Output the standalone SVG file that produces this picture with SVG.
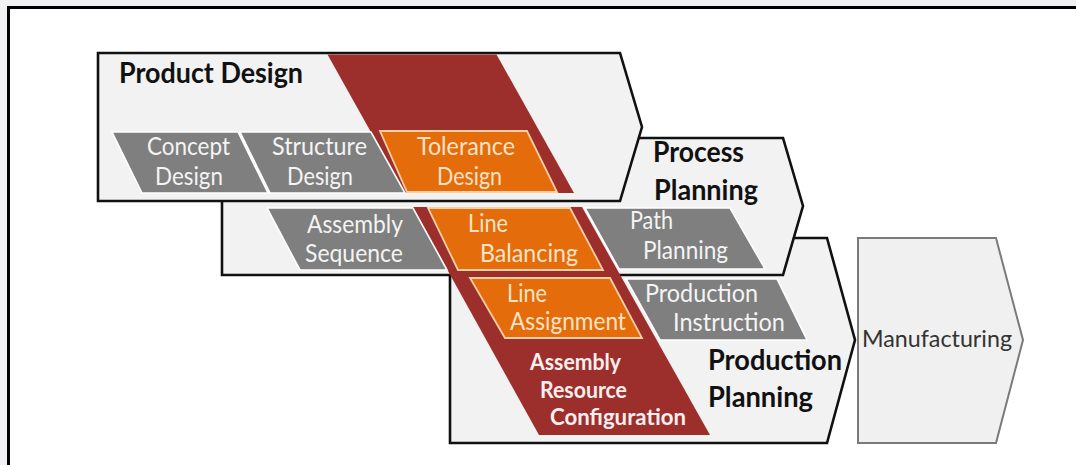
<svg xmlns="http://www.w3.org/2000/svg" width="1076" height="465" viewBox="0 0 1076 465">
  <style>
    .box { fill: #f2f2f2; stroke: #111; stroke-width: 2.6; stroke-linejoin: miter; }
    .mfg { fill: #f0f0f0; stroke: #7a7a7a; stroke-width: 2; }
    .band { fill: #9c2e2b; }
    .grey { fill: #7f7f7f; stroke: #ffffff; stroke-width: 1.6; }
    .orange { fill: #e46c0a; stroke: #f9cfa6; stroke-width: 1.8; }
    .lbl { font-family: Lato, "Open Sans", sans-serif; font-size: 25px; fill: #f4f4f4; }
    .lbl-o { font-family: Lato, "Open Sans", sans-serif; font-size: 25px; fill: #fde3c8; }
    .lbl-r { font-family: Lato, "Open Sans", sans-serif; font-size: 22.5px; font-weight: bold; fill: #fbeeee; }
    .title { font-family: Lato, "Open Sans", sans-serif; font-size: 28.5px; font-weight: bold; fill: #111; }
    .mfg-t { font-family: Lato, "Open Sans", sans-serif; font-size: 23px; fill: #333; }
  </style>

  <!-- page background and frame -->
  <rect x="0" y="0" width="1076" height="465" fill="#f1f1f3"/>
  <rect x="8.5" y="7.5" width="1100" height="500" fill="#ffffff" stroke="#000" stroke-width="3"/>

  <!-- stage chevrons, back to front -->
  <g id="manufacturing">
    <polygon class="mfg" points="858,238 996,238 1023,340 996,443 858,443"/>
    <text class="mfg-t" x="862" y="347" textLength="150" lengthAdjust="spacingAndGlyphs">Manufacturing</text>
  </g>

  <g id="production-planning">
    <polygon class="box" points="450,238 827,238 855,340 827,443 450,443"/>
    <text class="title" x="708" y="370" textLength="134" lengthAdjust="spacingAndGlyphs">Production</text>
    <text class="title" x="708" y="407" textLength="105" lengthAdjust="spacingAndGlyphs">Planning</text>
  </g>

  <g id="process-planning">
    <polygon class="box" points="222,138 783,138 803,206 783,275 222,275"/>
    <text class="title" x="653" y="162" textLength="91" lengthAdjust="spacingAndGlyphs">Process</text>
    <text class="title" x="654" y="200" textLength="104" lengthAdjust="spacingAndGlyphs">Planning</text>
  </g>

  <g id="product-design">
    <polygon class="box" points="98,53 620,53 642,127 620,201 98,201"/>
    <text class="title" x="119" y="83" textLength="184" lengthAdjust="spacingAndGlyphs">Product Design</text>
  </g>

  <!-- assembly resource configuration band crossing all stages -->
  <g id="assembly-resource-configuration">
    <polygon class="band" points="327.5,54.5 496.5,54.5 574,193 405,193"/>
    <polygon class="band" points="412.5,207 582,207 710,435 539,435"/>
    <text class="lbl-r" x="530" y="370" textLength="91" lengthAdjust="spacingAndGlyphs">Assembly</text>
    <text class="lbl-r" x="540" y="398" textLength="87" lengthAdjust="spacingAndGlyphs">Resource</text>
    <text class="lbl-r" x="550" y="425" textLength="136" lengthAdjust="spacingAndGlyphs">Configuration</text>
  </g>

  <!-- product design tasks -->
  <g id="concept-design">
    <polygon class="grey" points="112,132 238,132 268,193 142,193"/>
    <text class="lbl" x="147" y="155" textLength="83" lengthAdjust="spacingAndGlyphs">Concept</text>
    <text class="lbl" x="155" y="185" textLength="68" lengthAdjust="spacingAndGlyphs">Design</text>
  </g>
  <g id="structure-design">
    <polygon class="grey" points="240,132 371,132 405,193 270,193"/>
    <text class="lbl" x="272" y="155" textLength="95" lengthAdjust="spacingAndGlyphs">Structure</text>
    <text class="lbl" x="287" y="185" textLength="66" lengthAdjust="spacingAndGlyphs">Design</text>
  </g>
  <g id="tolerance-design">
    <polygon class="orange" points="380,131 527,131 557,192 407,192"/>
    <text class="lbl-o" x="417" y="155" textLength="98" lengthAdjust="spacingAndGlyphs">Tolerance</text>
    <text class="lbl-o" x="437" y="185" textLength="65" lengthAdjust="spacingAndGlyphs">Design</text>
  </g>

  <!-- process planning tasks -->
  <g id="assembly-sequence">
    <polygon class="grey" points="267,208 413,208 447,270 300,270"/>
    <text class="lbl" x="307" y="233" textLength="96" lengthAdjust="spacingAndGlyphs">Assembly</text>
    <text class="lbl" x="305" y="262" textLength="98" lengthAdjust="spacingAndGlyphs">Sequence</text>
  </g>
  <g id="line-balancing">
    <polygon class="orange" points="428,208 570,208 603,270 458,270"/>
    <text class="lbl-o" x="468" y="232" textLength="40" lengthAdjust="spacingAndGlyphs">Line</text>
    <text class="lbl-o" x="480" y="262" textLength="98" lengthAdjust="spacingAndGlyphs">Balancing</text>
  </g>
  <g id="path-planning">
    <polygon class="grey" points="585,208 730,208 765,269 619,269"/>
    <text class="lbl" x="630" y="229" textLength="43" lengthAdjust="spacingAndGlyphs">Path</text>
    <text class="lbl" x="643" y="259" textLength="85" lengthAdjust="spacingAndGlyphs">Planning</text>
  </g>

  <!-- production planning tasks -->
  <g id="line-assignment">
    <polygon class="orange" points="470,278 610,278 642,338 505,338"/>
    <text class="lbl-o" x="507" y="302" textLength="40" lengthAdjust="spacingAndGlyphs">Line</text>
    <text class="lbl-o" x="510" y="330" textLength="116" lengthAdjust="spacingAndGlyphs">Assignment</text>
  </g>
  <g id="production-instruction">
    <polygon class="grey" points="626,279 777,279 807,340 660,340"/>
    <text class="lbl" x="645" y="302" textLength="113" lengthAdjust="spacingAndGlyphs">Production</text>
    <text class="lbl" x="673" y="331" textLength="112" lengthAdjust="spacingAndGlyphs">Instruction</text>
  </g>
</svg>
